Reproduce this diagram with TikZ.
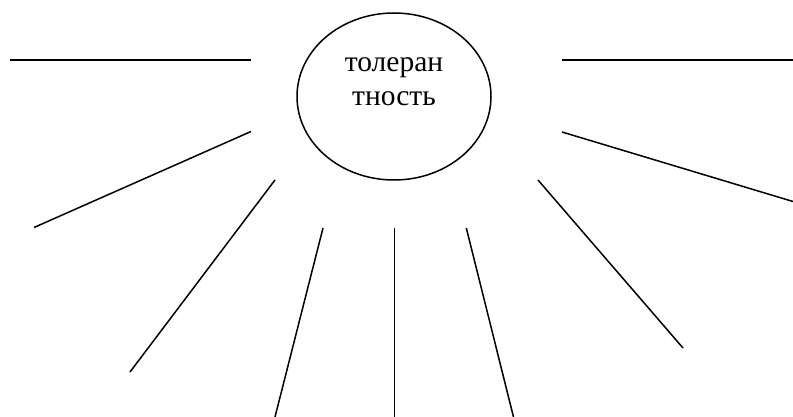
\documentclass[tikz,border=0pt]{standalone}
\usepackage{fontspec}
\setmainfont{Liberation Serif}
\usetikzlibrary{shapes.geometric}
\begin{document}
\begin{tikzpicture}[x=1pt,y=-1pt,
  ray/.style={line width=1.5pt},
  hub/.style={draw, line width=1.5pt, ellipse, minimum width=194pt, minimum height=167pt, inner sep=0pt}]
\useasboundingbox (0,0) rectangle (793,417);
\node[hub] (c) at (394,96.5) {};
\node[align=center, font=\fontsize{29.5}{33.7}\selectfont, anchor=base] (t) at (394,105.7) {толеран\\тность};
\coordinate (a1) at (10,60);   \coordinate (b1) at (251,60);
\coordinate (a2) at (562,60);  \coordinate (b2) at (793,60);
\coordinate (a3) at (251,131.5); \coordinate (b3) at (34,227.5);
\coordinate (a4) at (562,132); \coordinate (b4) at (793,201.5);
\coordinate (a5) at (275,180); \coordinate (b5) at (130,372);
\coordinate (a6) at (538,180); \coordinate (b6) at (683,348);
\coordinate (a7) at (323,228); \coordinate (b7) at (275,417);
\coordinate (a8) at (394.3,228); \coordinate (b8) at (394.3,417);
\coordinate (a9) at (466.3,228); \coordinate (b9) at (513.5,417);
\foreach \i in {1,...,9} { \draw[ray] (a\i) -- (b\i); }
\end{tikzpicture}
\end{document}
